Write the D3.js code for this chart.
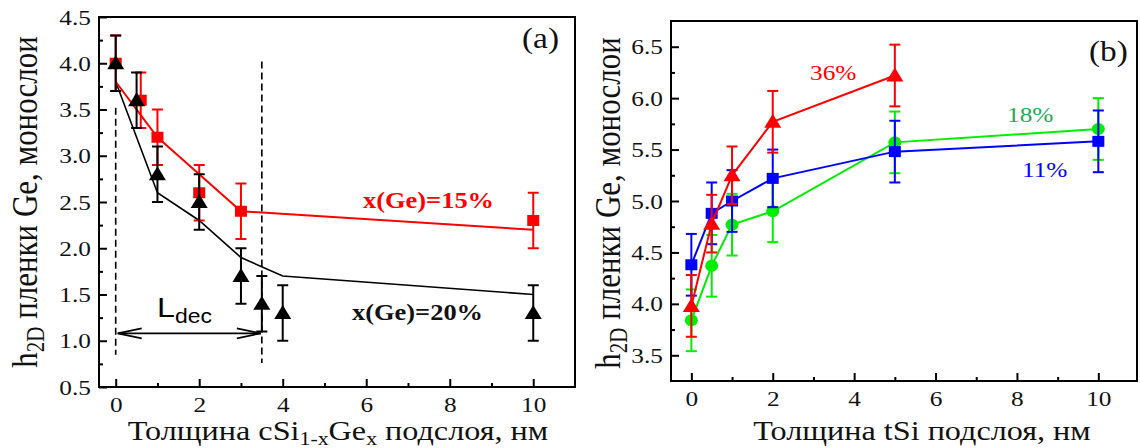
<!DOCTYPE html>
<html>
<head>
<meta charset="utf-8">
<script src="https://cdn.jsdelivr.net/npm/d3@7"></script>
<style>
  body { margin: 0; background: #fff; }
</style>
</head>
<body>
<div id="chart"></div>
<script>
/* DATA */

// panel (a): thickness of cSi(1-x)Ge(x) sublayer
const aTicksX = [0, 2, 4, 6, 8, 10];
const aMinorX = [1, 3, 5, 7, 9];
const aTicksY = [0.5, 1.0, 1.5, 2.0, 2.5, 3.0, 3.5, 4.0, 4.5];
const aMinorY = [0.75, 1.25, 1.75, 2.25, 2.75, 3.25, 3.75, 4.25];

const ge15X = [0, 0.6, 1, 2, 3, 10];
const ge15Y = [4.0, 3.6, 3.2, 2.6, 2.4, 2.3];
const ge15Err = [0.3, 0.3, 0.3, 0.3, 0.3, 0.3];
const ge15FitX = [0, 1, 2, 3, 10];
const ge15FitY = [3.8, 3.2, 2.8, 2.4, 2.2];

const ge20X = [0, 0.5, 1, 2, 3, 3.5, 4, 10];
const ge20Y = [4.0, 3.6, 2.8, 2.5, 1.7, 1.4, 1.3, 1.3];
const ge20Err = [0.3, 0.3, 0.3, 0.3, 0.3, 0.3, 0.3, 0.3];
const ge20FitX = [0, 1, 2, 3, 4, 10];
const ge20FitY = [3.8, 2.6, 2.3, 1.9, 1.7, 1.5];

// dashed markers of L_dec
const decX = [0, 3.5];
const decTop = [3.52, 4.02];
const decBottom = [0.85, 0.76];
const decArrowY = 1.08;

// panel (b): thickness of tSi sublayer
const bTicksX = [0, 2, 4, 6, 8, 10];
const bMinorX = [1, 3, 5, 7, 9];
const bTicksY = [3.5, 4.0, 4.5, 5.0, 5.5, 6.0, 6.5];
const bMinorY = [3.75, 4.25, 4.75, 5.25, 5.75, 6.25];

const s11X = [0, 0.5, 1, 2, 5, 10];
const s11Y = [4.38, 4.88, 5.0, 5.22, 5.48, 5.58];
const s11Err = [0.3, 0.3, 0.3, 0.28, 0.3, 0.3];

const s18X = [0, 0.5, 1, 2, 5, 10];
const s18Y = [3.84, 4.37, 4.77, 4.9, 5.57, 5.7];
const s18Err = [0.3, 0.3, 0.3, 0.3, 0.3, 0.3];

const s36X = [0, 0.5, 1, 2, 5];
const s36Y = [3.98, 4.78, 5.25, 5.77, 6.22];
const s36Err = [0.3, 0.28, 0.28, 0.3, 0.3];

/* SETUP */

const SX = 1.15; // the original picture is a bit stretched sideways
const serif = "'Liberation Serif', 'Times New Roman', serif";
const sans = "'Liberation Sans', Arial, sans-serif";

const svg = d3.select("#chart").append("svg")
    .attr("width", 1140)
    .attr("height", 448);

const xA = d3.scaleLinear().domain([-0.4, 11]).range([99, 575]);
const yA = d3.scaleLinear().domain([0.5, 4.5]).range([387, 17]);
const xB = d3.scaleLinear().domain([-0.5, 10.95]).range([671, 1137]);
const yB = d3.scaleLinear().domain([3.25, 6.75]).range([381, 21]);

/* FUNCTIONS */

// stretched text label
function label(x, y, str, size, color, opts = {}) {
    return svg.append("text")
        .attr("transform", `translate(${x},${y}) scale(${SX},1)` + (opts.rotate ? " rotate(-90)" : ""))
        .attr("text-anchor", opts.anchor || "start")
        .style("font-family", opts.family || serif)
        .style("font-size", size + "px")
        .style("font-weight", opts.bold ? "bold" : "normal")
        .attr("fill", color)
        .text(str);
}

function axes(x, y, majX, minX, majY, minY) {
    let [x0, x1] = x.range();
    let [y0, y1] = y.range();

    let gx = svg.append("g").attr("transform", `translate(0,${y0})`);
    gx.call(d3.axisBottom(x).tickValues(majX).tickSize(-8).tickSizeOuter(0).tickPadding(9));
    gx.append("g").call(d3.axisBottom(x).tickValues(minX).tickSize(-4).tickSizeOuter(0).tickFormat(""));

    let gy = svg.append("g").attr("transform", `translate(${x0},0)`);
    gy.call(d3.axisLeft(y).tickValues(majY).tickSize(-8).tickSizeOuter(0).tickPadding(7).tickFormat(d3.format(".1f")));
    gy.append("g").call(d3.axisLeft(y).tickValues(minY).tickSize(-4).tickSizeOuter(0).tickFormat(""));

    [gx, gy].forEach(g => {
        g.selectAll(".domain").remove();
        g.selectAll("line").attr("stroke", "#000").attr("stroke-width", 2);
        g.selectAll("text")
            .attr("transform", `scale(${SX},1)`)
            .style("font-family", serif)
            .style("font-size", "22px")
            .attr("fill", "#111");
    });

    svg.append("rect")
        .attr("x", x0).attr("y", y1)
        .attr("width", x1 - x0).attr("height", y0 - y1)
        .attr("fill", "none")
        .attr("stroke", "#000")
        .attr("stroke-width", 2);
}

function line(x, y, xs, ys, color, width) {
    let pts = xs.map((d, i) => [x(d), y(ys[i])]);
    svg.append("path")
        .attr("d", d3.line()(pts))
        .attr("fill", "none")
        .attr("stroke", color)
        .attr("stroke-width", width);
}

function errorBars(x, y, xs, ys, errs, color) {
    let g = svg.append("g").attr("stroke", color).attr("stroke-width", 2);
    xs.forEach((d, i) => {
        let cx = x(d), lo = y(ys[i] - errs[i]), hi = y(ys[i] + errs[i]);
        g.append("line").attr("x1", cx).attr("x2", cx).attr("y1", lo).attr("y2", hi);
        g.append("line").attr("x1", cx - 5.5).attr("x2", cx + 5.5).attr("y1", lo).attr("y2", lo);
        g.append("line").attr("x1", cx - 5.5).attr("x2", cx + 5.5).attr("y1", hi).attr("y2", hi);
    });
}

function markers(x, y, xs, ys, color, shape) {
    let g = svg.append("g").attr("fill", color);
    xs.forEach((d, i) => {
        let cx = x(d), cy = y(ys[i]);
        if (shape === "square") {
            g.append("rect").attr("x", cx - 6).attr("y", cy - 5.5).attr("width", 12).attr("height", 11);
        } else if (shape === "circle") {
            g.append("ellipse").attr("cx", cx).attr("cy", cy).attr("rx", 6.5).attr("ry", 6);
        } else {
            g.append("path").attr("d", `M${cx},${cy - 8}L${cx + 8.5},${cy + 6}L${cx - 8.5},${cy + 6}Z`);
        }
    });
}

/* PANEL (a) */

axes(xA, yA, aTicksX, aMinorX, aTicksY, aMinorY);

// dashed limits and L_dec arrow
decX.forEach((d, i) => {
    svg.append("line")
        .attr("x1", xA(d)).attr("x2", xA(d))
        .attr("y1", yA(decTop[i])).attr("y2", yA(decBottom[i]))
        .attr("stroke", "#000")
        .attr("stroke-width", 1.6)
        .attr("stroke-dasharray", "7,4");
});

let ax0 = xA(decX[0]) + 2, ax1 = xA(decX[1]) - 1, ay = yA(decArrowY);
svg.append("line").attr("x1", ax0).attr("x2", ax1).attr("y1", ay).attr("y2", ay)
    .attr("stroke", "#000").attr("stroke-width", 1.6);
svg.append("path")
    .attr("d", `M${ax0 + 24},${ay - 5}L${ax0},${ay}L${ax0 + 24},${ay + 5}M${ax1 - 24},${ay - 5}L${ax1},${ay}L${ax1 - 24},${ay + 5}`)
    .attr("fill", "none").attr("stroke", "#000").attr("stroke-width", 1.6);

let ldec = svg.append("text")
    .attr("transform", `translate(157,317) scale(${SX},1)`)
    .style("font-family", sans)
    .style("font-size", "28px");
ldec.append("tspan").text("L");
ldec.append("tspan").attr("dy", 6).style("font-size", "20px").text("dec");

line(xA, yA, ge20FitX, ge20FitY, "#000", 1.6);
line(xA, yA, ge15FitX, ge15FitY, "#ff0000", 2);
errorBars(xA, yA, ge15X, ge15Y, ge15Err, "#ff0000");
markers(xA, yA, ge15X, ge15Y, "#ff0000", "square");
errorBars(xA, yA, ge20X, ge20Y, ge20Err, "#000");
markers(xA, yA, ge20X, ge20Y, "#000", "triangle");

label(363, 208, "x(Ge)=15%", 23, "#ff0000", { bold: true });
label(352, 320, "x(Ge)=20%", 23, "#111", { bold: true });
label(522, 48, "(a)", 29, "#111");

/* PANEL (b) */

axes(xB, yB, bTicksX, bMinorX, bTicksY, bMinorY);

line(xB, yB, s18X, s18Y, "#00ee00", 2);
errorBars(xB, yB, s18X, s18Y, s18Err, "#00ee00");
markers(xB, yB, s18X, s18Y, "#00ee00", "circle");

line(xB, yB, s11X, s11Y, "#0000ff", 2);
errorBars(xB, yB, s11X, s11Y, s11Err, "#0000ff");
markers(xB, yB, s11X, s11Y, "#0000ff", "square");

line(xB, yB, s36X, s36Y, "#ff0000", 2);
errorBars(xB, yB, s36X, s36Y, s36Err, "#ff0000");
markers(xB, yB, s36X, s36Y, "#ff0000", "triangle");

label(810, 80, "36%", 22, "#ff0000");
label(1007, 122, "18%", 22, "#1fa85a");
label(1022, 177, "11%", 22, "#0000ff");
label(1089, 61, "(b)", 29, "#111");

/* AXIS TITLES */

function yTitle(x, y) {
    let t = svg.append("text")
        .attr("transform", `translate(${x},${y}) scale(${SX},1) rotate(-90)`)
        .attr("text-anchor", "middle")
        .style("font-family", serif)
        .style("font-size", "31px")
        .attr("fill", "#111");
    t.append("tspan").text("h");
    t.append("tspan").attr("dy", 6).style("font-size", "21px").text("2D");
    t.append("tspan").attr("dy", -6).text(" пленки Ge, монослои");
}
yTitle(37, 202);
yTitle(620, 203);

let xtA = svg.append("text")
    .attr("transform", `translate(338,440) scale(${SX},1)`)
    .attr("text-anchor", "middle")
    .style("font-family", serif)
    .style("font-size", "28px")
    .attr("fill", "#111");
xtA.append("tspan").text("Толщина cSi");
xtA.append("tspan").attr("dy", 5).style("font-size", "19px").text("1-x");
xtA.append("tspan").attr("dy", -5).text("Ge");
xtA.append("tspan").attr("dy", 5).style("font-size", "19px").text("x");
xtA.append("tspan").attr("dy", -5).text(" подслоя, нм");

label(922, 440, "Толщина tSi подслоя, нм", 28, "#111", { anchor: "middle" });
</script>
</body>
</html>
